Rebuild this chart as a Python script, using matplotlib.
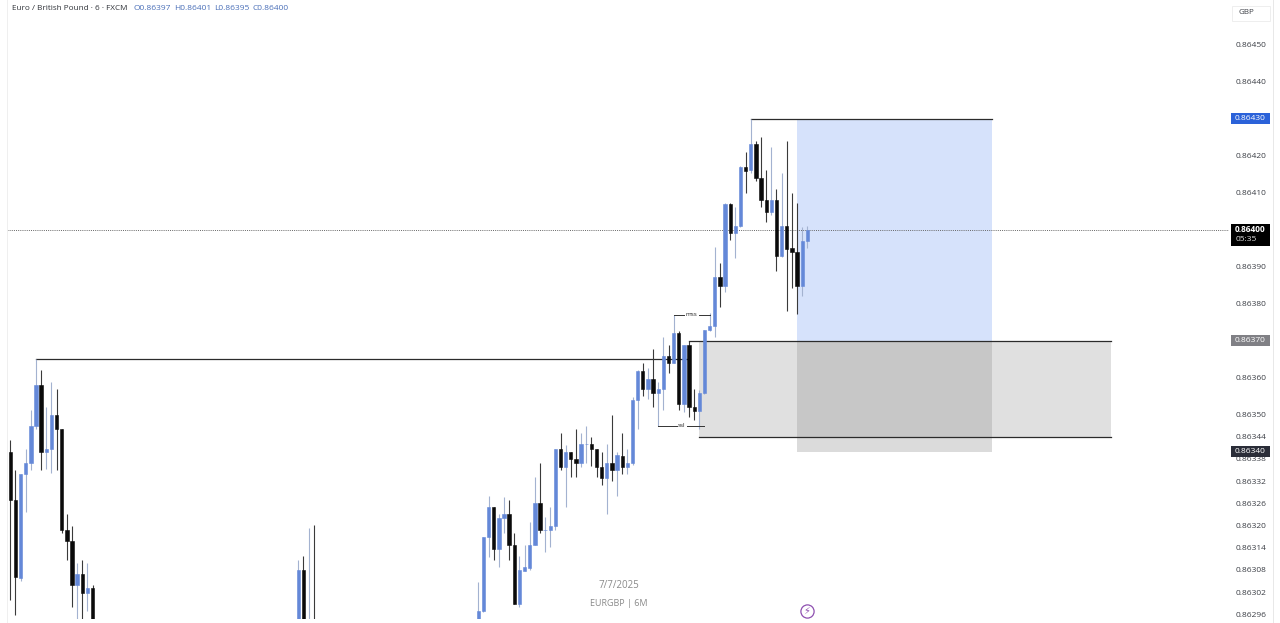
import numpy as np
import matplotlib
matplotlib.use("Agg")
import matplotlib.pyplot as plt
from matplotlib.patches import Rectangle
from matplotlib.transforms import blended_transform_factory

# ---- data ----
bar_index = list(range(0, 17)) + [56, 57, 58, 59] + list(range(91, 156))
opens = [
    0.863399, 0.863269, 0.863057, 0.863338, 0.863368,
    0.863469, 0.863579, 0.863398, 0.863408, 0.863498,
    0.863460, 0.863189, 0.863159, 0.863039, 0.863069,
    0.863018, 0.863030,
    0.862900, 0.863079, 0.862850, 0.862900,
    0.862900, 0.862969, 0.863169, 0.863249, 0.863137,
    0.863219, 0.863230, 0.863147, 0.862987, 0.863078,
    0.863086, 0.863147, 0.863260, 0.863187, 0.863189,
    0.863198, 0.863408, 0.863359, 0.863398, 0.863380,
    0.863368, 0.863419, 0.863420, 0.863408, 0.863359,
    0.863328, 0.863368, 0.863350, 0.863389, 0.863359,
    0.863368, 0.863539, 0.863618, 0.863568, 0.863597,
    0.863559, 0.863568, 0.863659, 0.863640, 0.863719,
    0.863528, 0.863688, 0.863519, 0.863510, 0.863559,
    0.863728, 0.863739, 0.863871, 0.863848, 0.864069,
    0.863990, 0.864009, 0.864170, 0.864161, 0.864231,
    0.864138, 0.864080, 0.864048, 0.864080, 0.863929,
    0.864009, 0.863949, 0.863940, 0.863848, 0.863970,
]
closes = [
    0.863269, 0.863060, 0.863339, 0.863368, 0.863469,
    0.863579, 0.863398, 0.863408, 0.863498, 0.863460,
    0.863189, 0.863159, 0.863039, 0.863069, 0.863018,
    0.863030, 0.862900,
    0.863079, 0.862850, 0.862900, 0.862850,
    0.862969, 0.863169, 0.863249, 0.863137, 0.863221,
    0.863230, 0.863147, 0.862987, 0.863079, 0.863088,
    0.863147, 0.863260, 0.863187, 0.863189, 0.863198,
    0.863408, 0.863357, 0.863399, 0.863379, 0.863368,
    0.863420, 0.863420, 0.863408, 0.863359, 0.863328,
    0.863368, 0.863350, 0.863390, 0.863359, 0.863368,
    0.863539, 0.863618, 0.863568, 0.863597, 0.863559,
    0.863568, 0.863659, 0.863640, 0.863719, 0.863528,
    0.863688, 0.863519, 0.863510, 0.863559, 0.863728,
    0.863740, 0.863871, 0.863848, 0.864069, 0.863990,
    0.864009, 0.864170, 0.864159, 0.864231, 0.864138,
    0.864080, 0.864048, 0.864080, 0.863929, 0.864009,
    0.863947, 0.863938, 0.863848, 0.863970, 0.864000,
]
highs = [
    0.863431, 0.863350, 0.863339, 0.863408, 0.863512,
    0.863651, 0.863620, 0.863521, 0.863588, 0.863568,
    0.863460, 0.863231, 0.863199, 0.863099, 0.863108,
    0.863099, 0.863039,
    0.863108, 0.863117, 0.863192, 0.863201,
    0.863048, 0.863169, 0.863279, 0.863249, 0.863231,
    0.863278, 0.863269, 0.863180, 0.863118, 0.863147,
    0.863210, 0.863332, 0.863370, 0.863222, 0.863249,
    0.863408, 0.863451, 0.863417, 0.863399, 0.863460,
    0.863449, 0.863469, 0.863438, 0.863408, 0.863399,
    0.863419, 0.863498, 0.863399, 0.863451, 0.863408,
    0.863548, 0.863620, 0.863640, 0.863627, 0.863678,
    0.863588, 0.863710, 0.863689, 0.863770, 0.863726,
    0.863689, 0.863700, 0.863568, 0.863566, 0.863728,
    0.863773, 0.863954, 0.863910, 0.864071, 0.864071,
    0.864062, 0.864172, 0.864210, 0.864300, 0.864240,
    0.864251, 0.864161, 0.864222, 0.864109, 0.864152,
    0.864240, 0.864100, 0.864071, 0.864008, 0.864010,
]
lows = [
    0.863000, 0.862958, 0.863051, 0.863237, 0.863350,
    0.863460, 0.863350, 0.863354, 0.863341, 0.863350,
    0.863180, 0.863108, 0.862980, 0.862944, 0.862944,
    0.862969, 0.862850,
    0.862850, 0.862800, 0.862820, 0.862800,
    0.862880, 0.862967, 0.863115, 0.863108, 0.863088,
    0.863180, 0.863108, 0.862987, 0.862980, 0.863078,
    0.863080, 0.863147, 0.863180, 0.863129, 0.863141,
    0.863189, 0.863350, 0.863249, 0.863330, 0.863330,
    0.863359, 0.863368, 0.863360, 0.863332, 0.863310,
    0.863231, 0.863321, 0.863279, 0.863338, 0.863338,
    0.863363, 0.863462, 0.863550, 0.863541, 0.863521,
    0.863469, 0.863512, 0.863613, 0.863638, 0.863512,
    0.863507, 0.863492, 0.863486, 0.863462, 0.863555,
    0.863726, 0.863710, 0.863791, 0.863832, 0.863972,
    0.863922, 0.864008, 0.864100, 0.864152, 0.864132,
    0.864062, 0.864021, 0.864039, 0.863889, 0.863927,
    0.863780, 0.863841, 0.863772, 0.863820, 0.863950,
]

tick_prices = [0.86450, 0.86440, 0.86420, 0.86410, 0.86390, 0.86380, 0.86360, 0.86350,
               0.86344, 0.86338, 0.86332, 0.86326, 0.86320, 0.86314, 0.86308, 0.86302, 0.86296]
target_price = 0.86430
entry_price = 0.86370
stop_price = 0.86340
zone_low = 0.86344
last_price = 0.86400
prior_high = 0.863651
mss_price = 0.86377
ssl_price = 0.863469

title_text = "Euro / British Pound \u00b7 6 \u00b7 FXCM"
ohlc_text = ["O0.86397", "H0.86401", "L0.86395", "C0.86400"]

BLUE = "#6488d8"
BLUE_WICK = "#a3b2d0"
BLACK = "#0a0a0a"
BLACK_WICK = "#3a3a3a"

W, H = 1280, 623
plt.rcParams["font.family"] = ["Open Sans", "DejaVu Sans"]
fig = plt.figure(figsize=(W / 100, H / 100), dpi=100, facecolor="white")
ax = fig.add_axes([7 / W, 1 - 619 / H, (1229 - 7) / W, (619 - 1) / H])
ax.set_xlim(-0.642, 237.0)
ax.set_ylim(0.8629473, 0.8646176)
for s in ax.spines.values():
    s.set_visible(False)
ax.set_xticks([])
ax.yaxis.tick_right()
ax.set_yticks(tick_prices)
ax.set_yticklabels([f"{p:.5f}" for p in tick_prices])
ax.tick_params(axis="y", length=0, pad=5, labelsize=6, labelcolor="#3c3f46")

# position boxes
ax.add_patch(Rectangle((153, entry_price), 38, target_price - entry_price,
                       fc="#d6e2fb", ec="none", zorder=1))
ax.add_patch(Rectangle((134, zone_low), 80, entry_price - zone_low,
                       fc="#9a9a9a", alpha=0.3, ec="none", zorder=1.2))
ax.add_patch(Rectangle((153, stop_price), 38, entry_price - stop_price,
                       fc="#8a8a8a", alpha=0.3, ec="none", zorder=1.1))

# price levels
line_kw = dict(color="#2b2b2b", lw=0.9, zorder=1.5)
ax.plot([144, 191], [target_price, target_price], **line_kw)
ax.plot([5, 132], [prior_high, prior_high], **line_kw)
ax.plot([132, 214], [entry_price, entry_price], **line_kw)
ax.plot([134, 214], [zone_low, zone_low], **line_kw)
ax.axhline(last_price, color="#666666", lw=0.7, ls=(0, (1, 1.2)), zorder=1.5)

# candles
idx = np.array(bar_index, dtype=float)
o, c, hi, lo = map(np.array, (opens, closes, highs, lows))
up = c >= o
ax.vlines(idx[up], lo[up], hi[up], color=BLUE_WICK, lw=0.8, zorder=2)
ax.vlines(idx[~up], lo[~up], hi[~up], color=BLACK_WICK, lw=0.8, zorder=2)
ax.bar(idx[up], (c - o)[up], bottom=o[up], width=0.66, color=BLUE, edgecolor=BLUE, lw=0.4, zorder=3)
ax.bar(idx[~up], (o - c)[~up], bottom=c[~up], width=0.66, color=BLACK, edgecolor=BLACK, lw=0.4, zorder=3)

# mss / ssl marks
mark_kw = dict(color="#333333", lw=0.7, zorder=4)
ax.plot([129, 131.0], [mss_price, mss_price], **mark_kw)
ax.plot([134.0, 136], [mss_price, mss_price], **mark_kw)
ax.text(132.5, mss_price, "mss", ha="center", va="center", fontsize=4.6, color="#222222", zorder=5)
ax.plot([126, 129.7], [ssl_price, ssl_price], **mark_kw)
ax.plot([131.6, 135], [ssl_price, ssl_price], **mark_kw)
ax.text(130.5, ssl_price, "ssl", ha="center", va="center", fontsize=4.6, color="#222222", zorder=5)

# highlighted price labels on the scale
tr = blended_transform_factory(fig.transFigure, ax.transData)
def price_label(price, color, half=0.000015):
    ax.add_patch(Rectangle((1231 / W, price - half), 38.5 / W, 2 * half, transform=tr,
                           fc=color, ec="none", clip_on=False, zorder=10))
    ax.text(1250.5 / W, price, f"{price:.5f}", transform=tr, ha="center", va="center",
            fontsize=6, color="white", clip_on=False, zorder=11)

price_label(target_price, "#2b62d9")
price_label(entry_price, "#808085")
price_label(stop_price, "#2a2d38")
ax.add_patch(Rectangle((1231 / W, last_price - 0.0000435), 38.5 / W, 0.0000595, transform=tr,
                       fc="#000000", ec="none", clip_on=False, zorder=10))
ax.text(1250.5 / W, last_price, f"{last_price:.5f}", transform=tr, ha="center", va="center",
        fontsize=6, color="white", fontweight="bold", clip_on=False, zorder=11)
ax.text(1236 / W, last_price - 0.000027, "05:35", transform=tr, ha="left", va="center",
        fontsize=6, color="#e0e0e0", clip_on=False, zorder=11)

# header and captions
def px(x, y):
    return x / W, 1 - y / H
fig.text(*px(12, 9), title_text, fontsize=5.9, color="#2f3238", ha="left", va="center")
for label, x0 in zip(ohlc_text, [134, 174, 214, 252.7]):
    fig.text(*px(x0, 9), label, fontsize=6, color="#4a6fb8", ha="left", va="center")
fig.text(*px(619, 586), "7/7/2025", fontsize=7, color="#8a8a8a", ha="center", va="center")
fig.text(*px(619, 603), "EURGBP | 6M", fontsize=6.5, color="#8a8a8a", ha="center", va="center")
fig.text(*px(1246, 12.5), "GBP", fontsize=5.8, color="#3c3f46", ha="center", va="center")
fig.add_artist(Rectangle((1232 / W, 1 - 21 / H), 38 / W, 15 / H, transform=fig.transFigure,
                         fc="white", ec="#eeeeee", lw=0.7, zorder=-1))

# lightning badge
fig.add_artist(plt.Line2D([807 / W], [1 - 610.5 / H], marker="o", ms=9.5, mfc="white", mec="#8e4fb0",
                          mew=0.9, transform=fig.transFigure))
fig.text(*px(807, 610.5), "\u26a1", fontsize=7, color="#8e4fb0", ha="center", va="center",
         family=["DejaVu Sans"], zorder=5)

# faint frame of the screenshot
fig.add_artist(plt.Line2D([7 / W, 7 / W], [0, 1], color="#efefef", lw=0.7, transform=fig.transFigure))
fig.add_artist(plt.Line2D([1272.5 / W, 1272.5 / W], [0, 1], color="#e8e8e8", lw=0.7, transform=fig.transFigure))

fig.savefig("out.png", dpi=100, facecolor="white")
